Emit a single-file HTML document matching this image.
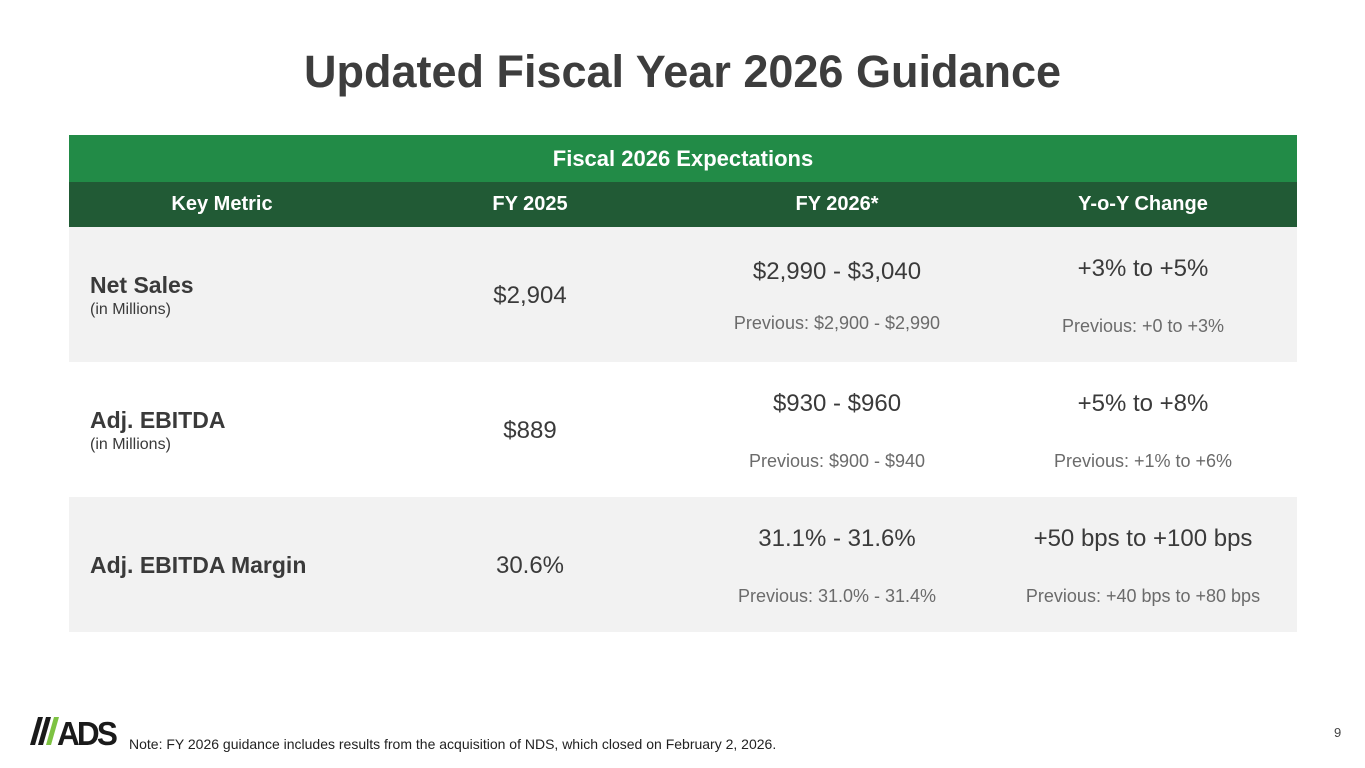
<!DOCTYPE html>
<html><head><meta charset="utf-8"><style>
body{margin:0;width:1365px;height:768px;background:#fff;font-family:"Liberation Sans",sans-serif;color:#3a3a3a;position:relative;overflow:hidden}
.abs{position:absolute}
.title{left:0;width:1365px;top:46px;text-align:center;font-size:45px;font-weight:bold;color:#3d3d3d}
.hdr{left:69px;width:1228px;top:135px;height:47px;background:#228b47;color:#fff;font-weight:bold;font-size:22px;text-align:center;line-height:48px}
.sub{left:69px;width:1228px;top:182px;height:45px;background:#215a35;color:#fff;font-weight:bold;font-size:20px}
.c{position:absolute;text-align:center;width:300px}
.row{left:69px;width:1228px;height:135px}
.big{font-size:24px;color:#3a3a3a}
.prev{font-size:18px;color:#6b6b6b}
.lbl{font-size:23px;font-weight:bold;color:#3a3a3a}
.unit{font-size:16px;color:#3a3a3a}
</style></head><body>
<div class="abs title">Updated Fiscal Year 2026 Guidance</div>
<div class="abs hdr">Fiscal 2026 Expectations</div>
<div class="abs sub">
 <div class="c" style="left:3px;top:11px">Key Metric</div>
 <div class="c" style="left:311px;top:11px">FY 2025</div>
 <div class="c" style="left:618px;top:11px">FY 2026*</div>
 <div class="c" style="left:924px;top:11px">Y-o-Y Change</div>
</div>

<div class="abs row" style="top:227px;background:#f2f2f2">
 <div class="abs lbl" style="left:21px;top:45px">Net Sales</div>
 <div class="abs unit" style="left:21px;top:74px">(in Millions)</div>
 <div class="c big" style="left:311px;top:55px">$2,904</div>
 <div class="c big" style="left:618px;top:31px">$2,990 - $3,040</div>
 <div class="c prev" style="left:618px;top:86px">Previous: $2,900 - $2,990</div>
 <div class="c big" style="left:924px;top:28px">+3% to +5%</div>
 <div class="c prev" style="left:924px;top:89px">Previous: +0 to +3%</div>
</div>
<div class="abs row" style="top:362px;background:#fff">
 <div class="abs lbl" style="left:21px;top:45px">Adj. EBITDA</div>
 <div class="abs unit" style="left:21px;top:74px">(in Millions)</div>
 <div class="c big" style="left:311px;top:55px">$889</div>
 <div class="c big" style="left:618px;top:28px">$930 - $960</div>
 <div class="c prev" style="left:618px;top:89px">Previous: $900 - $940</div>
 <div class="c big" style="left:924px;top:28px">+5% to +8%</div>
 <div class="c prev" style="left:924px;top:89px">Previous: +1% to +6%</div>
</div>
<div class="abs row" style="top:497px;background:#f2f2f2">
 <div class="abs lbl" style="left:21px;top:55px">Adj. EBITDA Margin</div>
 <div class="c big" style="left:311px;top:55px">30.6%</div>
 <div class="c big" style="left:618px;top:28px">31.1% - 31.6%</div>
 <div class="c prev" style="left:618px;top:89px">Previous: 31.0% - 31.4%</div>
 <div class="c big" style="left:924px;top:28px">+50 bps to +100 bps</div>
 <div class="c prev" style="left:924px;top:89px">Previous: +40 bps to +80 bps</div>
</div>

<svg class="abs" style="left:30px;top:716px" width="90" height="32">
 <polygon points="8,1 13,1 5,29 0,29" fill="#1a1a1a"/>
 <polygon points="16,1 21,1 13,29 8,29" fill="#1a1a1a"/>
 <polygon points="24,1 29,1 21,29 16,29" fill="#7dc242"/>
 <text x="27" y="29" font-family="Liberation Sans" font-weight="bold" font-size="33" fill="#1a1a1a" letter-spacing="-3" textLength="58" lengthAdjust="spacingAndGlyphs">ADS</text>
</svg>
<div class="abs" style="left:129px;top:736px;font-size:14px;color:#222">Note: FY 2026 guidance includes results from the acquisition of NDS, which closed on February 2, 2026.</div>
<div class="abs" style="left:1334px;top:725px;font-size:13px;color:#444">9</div>
</body></html>
